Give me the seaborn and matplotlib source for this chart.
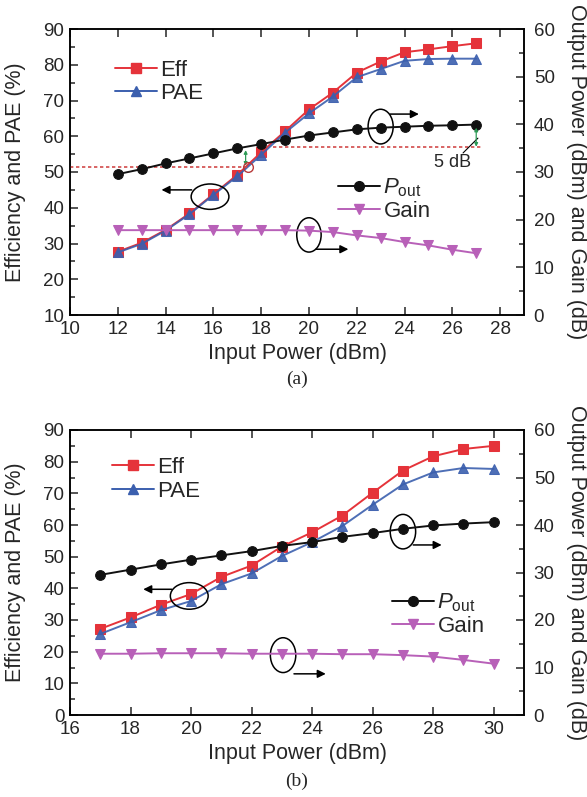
import matplotlib
matplotlib.use("Agg")
import matplotlib.pyplot as plt
import seaborn as sns
import pandas as pd
from matplotlib.patches import Ellipse
from matplotlib.lines import Line2D
from matplotlib.ticker import MultipleLocator

# ---------------- data (a) ----------------
pin_a = [12, 13, 14, 15, 16, 17, 18, 19, 20, 21, 22, 23, 24, 25, 26, 27]
eff_a = [27.7, 30.2, 33.8, 38.4, 43.8, 49.2, 55.5, 61.4, 67.5, 72.2, 77.8, 80.9, 83.5, 84.3, 85.2, 86.0]
pae_a = [27.5, 29.9, 33.6, 38.2, 43.6, 48.8, 54.8, 61.0, 66.4, 71.1, 76.5, 78.8, 81.1, 81.6, 81.7, 81.7]
pout_a = [29.55, 30.6, 31.8, 32.85, 33.9, 34.95, 35.85, 36.8, 37.65, 38.3, 38.95, 39.3, 39.5, 39.7, 39.8, 39.95]
gain_a = [17.8, 17.8, 17.8, 17.8, 17.8, 17.8, 17.8, 17.8, 17.7, 17.4, 16.7, 16.15, 15.3, 14.6, 13.7, 12.95]

# ---------------- data (b) ----------------
pin_b = [17, 18, 19, 20, 21, 22, 23, 24, 25, 26, 27, 28, 29, 30]
eff_b = [27.2, 30.8, 34.8, 38.2, 43.6, 47.2, 53.2, 57.7, 63.0, 70.2, 77.2, 81.7, 84.0, 85.0]
pae_b = [25.6, 29.3, 33.1, 36.0, 41.3, 44.7, 50.2, 54.6, 59.7, 66.4, 72.8, 76.6, 78.0, 77.7]
pout_b = [29.5, 30.6, 31.7, 32.7, 33.6, 34.5, 35.6, 36.4, 37.5, 38.3, 39.2, 39.9, 40.3, 40.6]
gain_b = [12.9, 12.9, 13.0, 13.0, 13.0, 12.9, 12.9, 12.9, 12.8, 12.8, 12.6, 12.3, 11.6, 10.8]

x_label = "Input Power (dBm)"
yl_label = "Efficiency and PAE (%)"
yr_label = "Output Power (dBm) and Gain (dB)"

sns.set_style("ticks")
plt.rcParams["font.family"] = ["Liberation Sans", "DejaVu Sans"]
plt.rcParams["mathtext.fontset"] = "custom"
plt.rcParams["mathtext.rm"] = "Liberation Sans"
plt.rcParams["mathtext.it"] = "Liberation Sans:italic"
plt.rcParams["axes.linewidth"] = 1.1

C_EFF = "#e5333a"
C_PAE = "#3b5fae"
C_POUT = "#111111"
C_GAIN = "#b860b8"
TICK_FS = 13.5
LAB_FS = 15.5
LEG_FS = 16

fig = plt.figure(figsize=(5.87, 7.97), dpi=100)


def style_axes(ax, ax2, xlim, xmaj, ylim):
    ax.set_xlim(*xlim)
    ax.set_ylim(*ylim)
    ax2.set_ylim(0, 60)
    ax.xaxis.set_major_locator(MultipleLocator(xmaj))
    ax.yaxis.set_major_locator(MultipleLocator(10))
    ax.yaxis.set_minor_locator(MultipleLocator(5))
    ax2.yaxis.set_major_locator(MultipleLocator(10))
    ax2.yaxis.set_minor_locator(MultipleLocator(5))
    ax.tick_params(axis="x", which="both", direction="in", top=True, bottom=True,
                   length=6, width=1.1, labelsize=TICK_FS, pad=4.5)
    ax.tick_params(axis="y", which="major", direction="in", left=True, right=False,
                   length=6, width=1.1, labelsize=TICK_FS, pad=4)
    ax.tick_params(axis="y", which="minor", direction="in", left=True, right=False,
                   length=3.5, width=1.1)
    ax2.tick_params(axis="y", which="major", direction="in", right=True,
                    length=6, width=1.1, labelsize=TICK_FS, pad=7)
    ax2.tick_params(axis="y", which="minor", direction="in", right=True,
                    length=3.5, width=1.1)
    for s in list(ax.spines.values()) + list(ax2.spines.values()):
        s.set_linewidth(1.1)
        s.set_color("black")
    ax.set_xlabel(x_label, fontsize=LAB_FS, va="center")
    ax.xaxis.set_label_coords(0.5, -0.135)
    ax.set_ylabel(yl_label, fontsize=LAB_FS, va="center")
    ax.yaxis.set_label_coords(-0.121, 0.5)
    ax2.set_ylabel(yr_label, fontsize=LAB_FS, rotation=270, va="center")
    ax2.yaxis.set_label_coords(1.116, 0.5)


def draw_series(ax, ax2, pin, eff, pae, pout, gain):
    df = pd.DataFrame({"pin": pin, "eff": eff, "pae": pae, "pout": pout, "gain": gain})
    sns.lineplot(data=df, x="pin", y="eff", ax=ax, color=C_EFF, marker="s",
                 markersize=6.5, markeredgecolor=C_EFF, lw=1.4, legend=False)
    sns.lineplot(data=df, x="pin", y="pae", ax=ax, color=C_PAE, marker="^",
                 markersize=7.5, markeredgecolor=C_PAE, lw=1.4, legend=False, alpha=0.9)
    sns.lineplot(data=df, x="pin", y="pout", ax=ax2, color=C_POUT, marker="o",
                 markersize=7, markeredgecolor=C_POUT, lw=1.4, legend=False)
    sns.lineplot(data=df, x="pin", y="gain", ax=ax2, color=C_GAIN, marker="v",
                 markersize=7.5, markeredgecolor=C_GAIN, lw=1.4, legend=False)
    ax.set_xlabel("")
    ax.set_ylabel("")
    ax2.set_ylabel("")


def legends(ax, ax2, pos1, pos2):
    h1 = [Line2D([], [], color=C_EFF, marker="s", ms=6.5, lw=1.4),
          Line2D([], [], color=C_PAE, marker="^", ms=7.5, lw=1.4)]
    ax.legend(h1, ["Eff", "PAE"], loc="upper left", bbox_to_anchor=pos1,
              frameon=False, fontsize=LEG_FS, handlelength=1.9,
              handletextpad=0.15, labelspacing=0.12, borderpad=0, borderaxespad=0)
    h2 = [Line2D([], [], color=C_POUT, marker="o", ms=7, lw=1.4),
          Line2D([], [], color=C_GAIN, marker="v", ms=7.5, lw=1.4)]
    ax2.legend(h2, [r"$P_{\mathrm{out}}$", "Gain"], loc="upper left", bbox_to_anchor=pos2,
               frameon=False, fontsize=LEG_FS, handlelength=1.9,
               handletextpad=0.15, labelspacing=0.05, borderpad=0, borderaxespad=0)


def ellipse_arrow(ax, cx, cy, w, h, ax_from, ax_to, ay):
    ax.add_patch(Ellipse((cx, cy), w, h, fill=False, ec="black", lw=1.1, zorder=5))
    ax.annotate("", xy=(ax_to, ay), xytext=(ax_from, ay),
                arrowprops=dict(arrowstyle="-|>", color="black", lw=1.1,
                                mutation_scale=12, shrinkA=0, shrinkB=0), zorder=5)


# ---------------- panel (a) ----------------
axA = fig.add_axes([70 / 587, 1 - 315 / 797, 454 / 587, 286 / 797])
axA2 = axA.twinx()
draw_series(axA, axA2, pin_a, eff_a, pae_a, pout_a, gain_a)
style_axes(axA, axA2, (10, 29), 2, (10, 90))
legends(axA, axA2, (0.099, 0.893), (0.59, 0.483))

# 5 dB back-off reference lines
axA2.plot([10, 17.45], [31.05, 31.05], color="#d24a4a", lw=1.2, ls=(0, (2, 1.6)), zorder=1)
axA2.plot([18.5, 27.2], [35.2, 35.2], color="#d24a4a", lw=1.2, ls=(0, (2, 1.6)), zorder=1)
axA2.plot([17.45], [31.05], marker="o", ms=7, mfc="none", mec="#b83a3a", mew=1.0, zorder=6)
for (xg, y0, y1) in [(17.35, 31.3, 34.6), (27.0, 35.3, 39.3)]:
    axA2.annotate("", xy=(xg, y1), xytext=(xg, y0),
                  arrowprops=dict(arrowstyle="<|-|>", color="#2c9a55", lw=0.9,
                                  mutation_scale=5, shrinkA=0, shrinkB=0))
axA2.plot([26.45, 27.07], [34.0, 37.1], color="black", lw=0.8)
axA2.text(26.0, 31.9, "5 dB", fontsize=13, ha="center", va="center")

ellipse_arrow(axA, 15.86, 43.1, 1.58, 7.1, 15.09, 13.83, 45.0)
ellipse_arrow(axA, 23.0, 62.7, 1.05, 9.7, 23.4, 24.6, 66.2)
ellipse_arrow(axA, 20.0, 32.4, 1.02, 9.6, 20.3, 21.65, 28.4)

# ---------------- panel (b) ----------------
axB = fig.add_axes([70 / 587, 1 - 715 / 797, 454 / 587, 285 / 797])
axB2 = axB.twinx()
draw_series(axB, axB2, pin_b, eff_b, pae_b, pout_b, gain_b)
style_axes(axB, axB2, (16, 31), 2, (0, 90))
legends(axB, axB2, (0.092, 0.905), (0.709, 0.432))

ellipse_arrow(axB, 19.94, 37.6, 1.25, 8.4, 19.36, 18.42, 39.7)
ellipse_arrow(axB, 27.0, 57.9, 0.84, 10.9, 27.34, 28.28, 53.7)
ellipse_arrow(axB, 23.04, 18.9, 0.84, 11.0, 23.4, 24.45, 13.0)

fig.text(0.506, 1 - 379 / 797, "(a)", fontsize=14, family="Liberation Serif",
         ha="center", va="center")
fig.text(0.506, 1 - 781 / 797, "(b)", fontsize=14, family="Liberation Serif",
         ha="center", va="center")

fig.savefig("out.png", dpi=100)
